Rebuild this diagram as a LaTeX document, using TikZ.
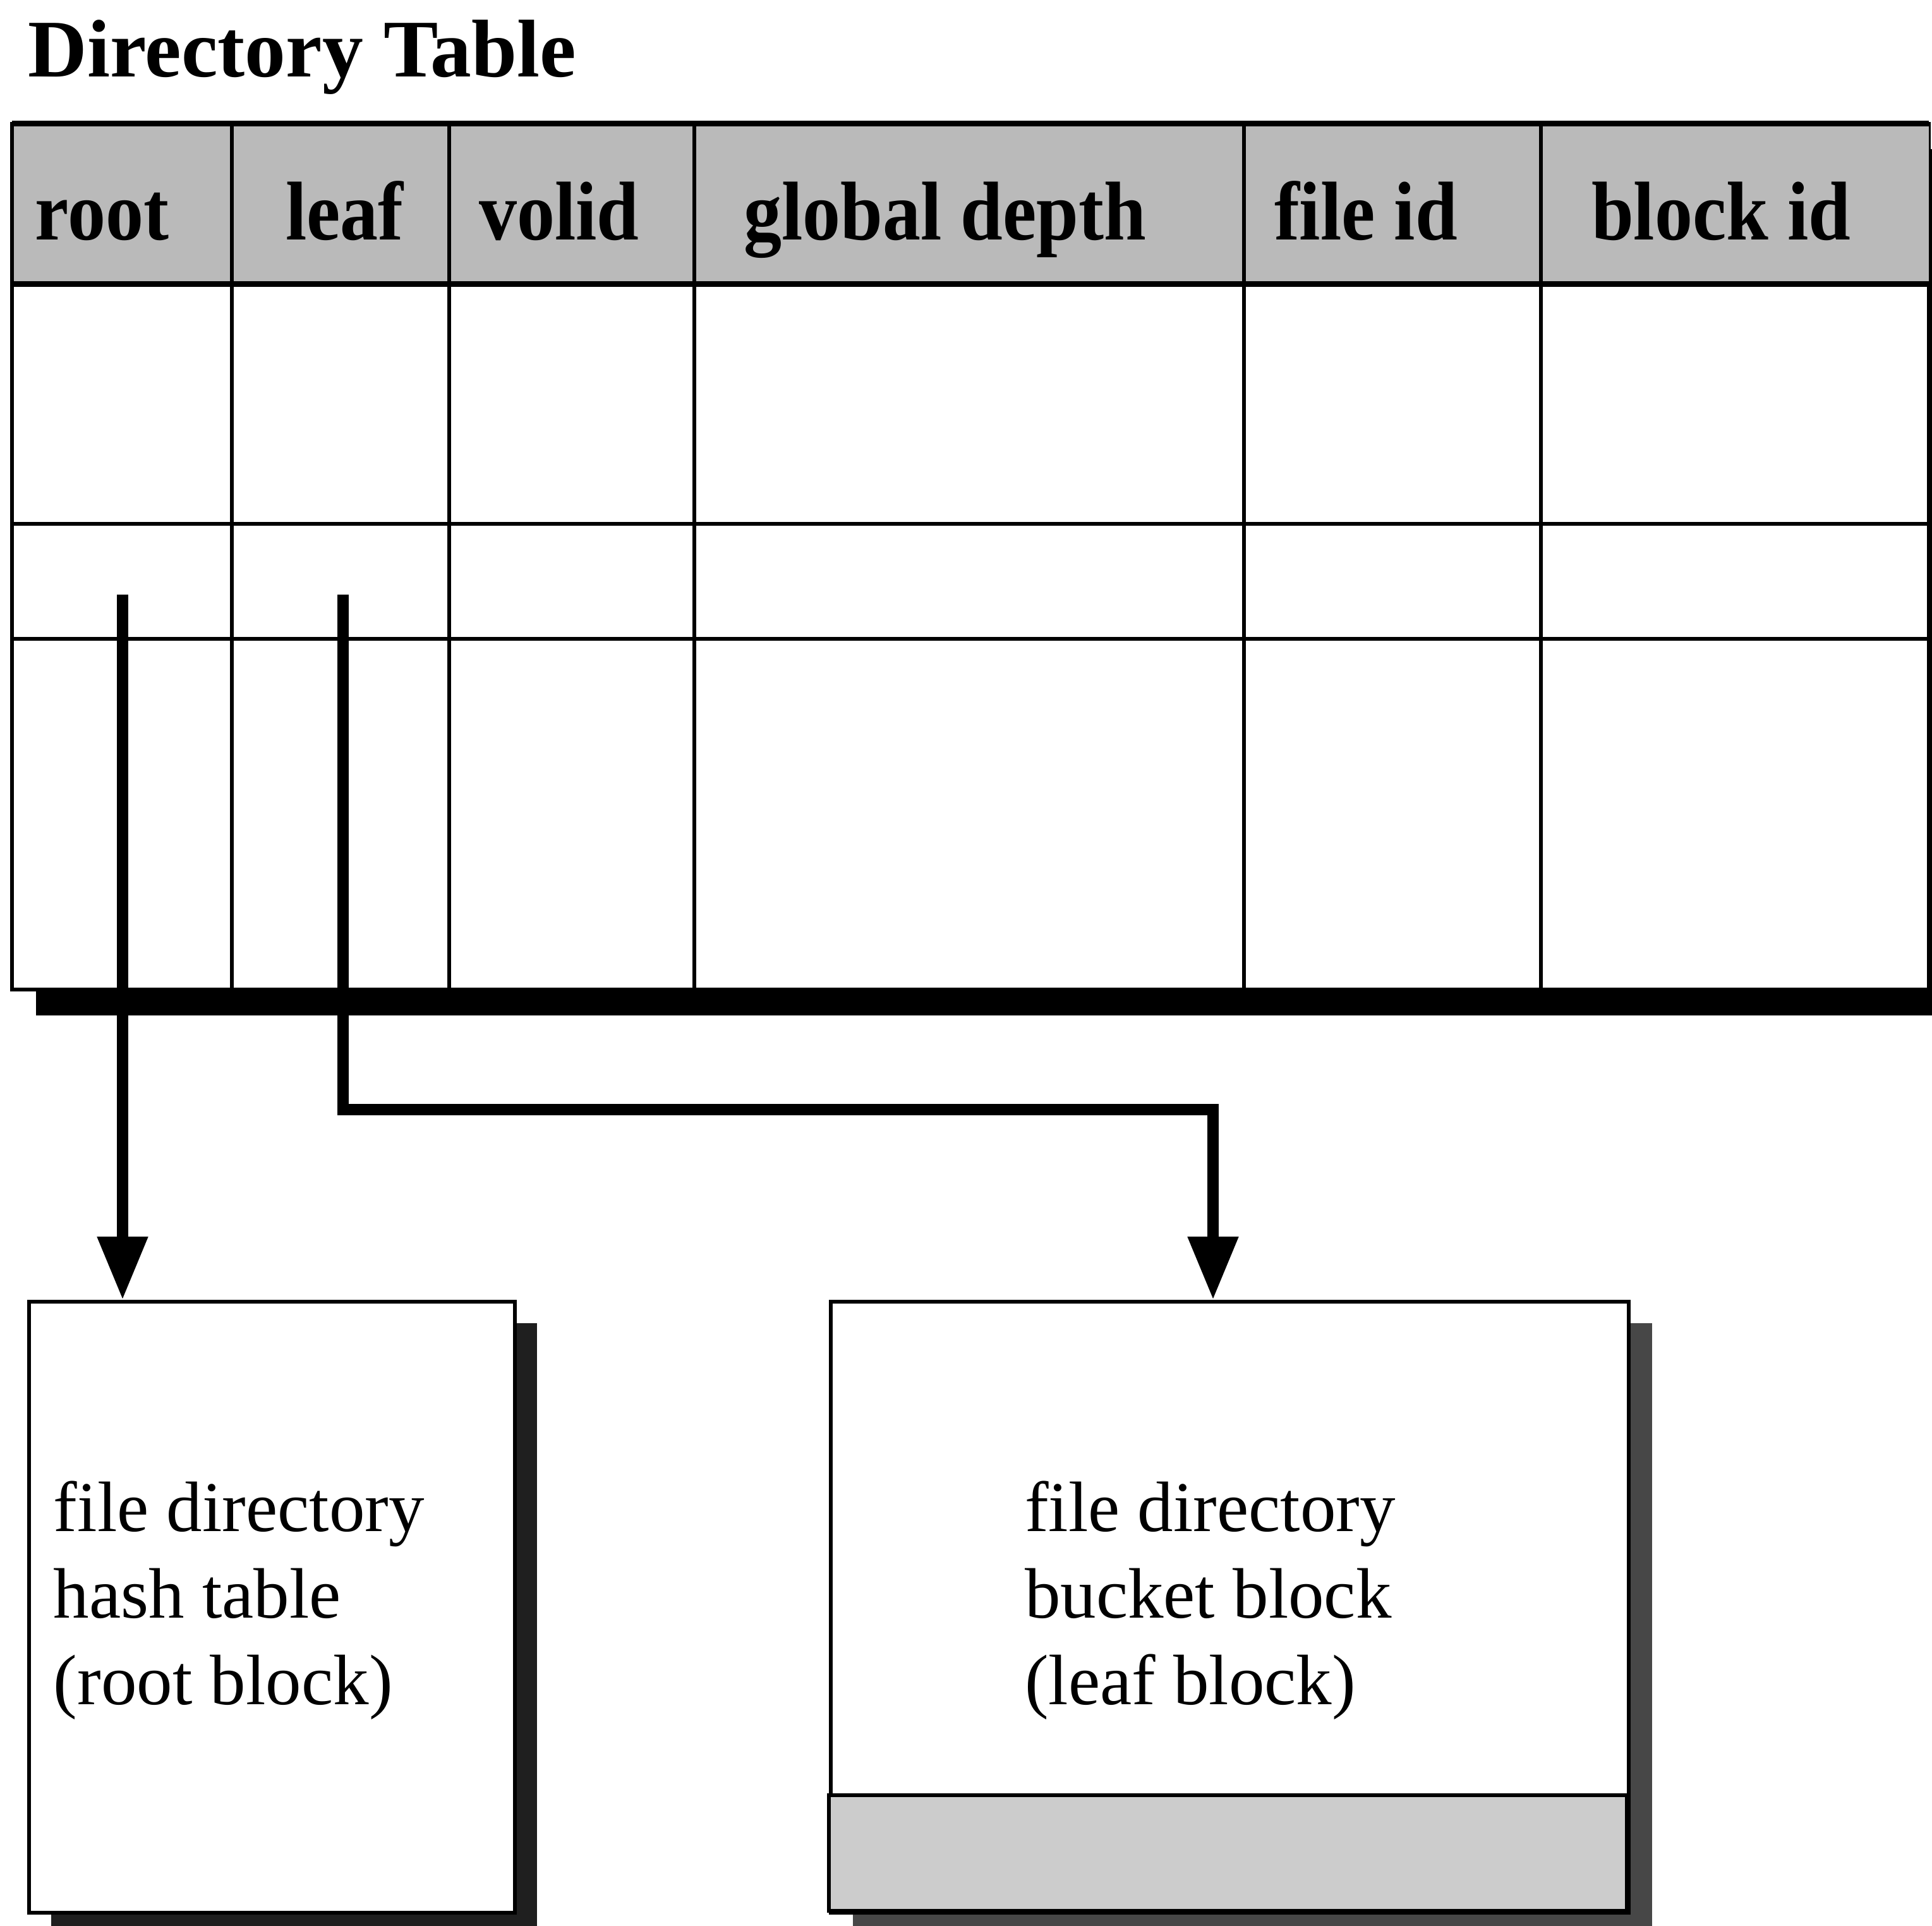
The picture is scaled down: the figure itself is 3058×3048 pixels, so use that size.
\documentclass[tikz,border=0pt]{standalone}
\usepackage{graphicx}
\usepackage{fontspec}
\setmainfont{Liberation Serif}
\usetikzlibrary{arrows.meta}
% header labels are set slightly taller than wide
\newcommand\tallhd[1]{\scalebox{1}[1.1]{#1}}
\begin{document}
\begin{tikzpicture}[x=0.1bp,y=-0.1bp,
  thinrule/.style={line width=0.6bp},
  thickrule/.style={line width=0.9bp},
  headtext/.style={anchor=base west, inner sep=0pt,
    font=\bfseries\fontsize{12bp}{14bp}\selectfont},
  bodytext/.style={anchor=base west, inner sep=0pt,
    font=\fontsize{11.3bp}{13.7bp}\selectfont},
  pointer/.style={line width=1.8bp, line join=miter,
    -{Triangle[length=10bp,width=7.6bp]}},
  block/.style={draw, line width=0.6bp, fill=white, inner sep=0pt,
    anchor=north west, minimum height=96.7bp}
]
\useasboundingbox (0,0) rectangle (3058,3048);
\clip (0,0) rectangle (3058,3048);

% title
\node[anchor=base west, inner sep=0pt,
  font=\bfseries\fontsize{12.95bp}{15bp}\selectfont] (title) at (43,122) {Directory Table};

% table: drop shadow, body, shaded header row
\fill[black] (57,236) rectangle (3096,1607);
\filldraw[fill=white, thinrule] (19,196) rectangle (3053,1566);
\fill[black!27] (19,196) rectangle (3053,450);

% column rules
\foreach \cx in {367,711,1099,1969,2439}
  \draw[thinrule] (\cx,196) -- (\cx,1566);
% row rules
\draw[thinrule] (19,829) -- (3053,829);
\draw[thinrule] (19,1011) -- (3053,1011);
\draw[thickrule] (19,450) -- (3053,450);
\draw[thickrule] (19,196) -- (3053,196);
\draw[thinrule] (19,196) -- (19,1566);

% header labels
\node[headtext] (hroot)  at (54,380)   {\tallhd{root}};
\node[headtext] (hleaf)  at (450,380)  {\tallhd{leaf}};
\node[headtext] (hvolid) at (756,380)  {\tallhd{volid}};
\node[headtext] (hdepth) at (1175,380) {\tallhd{global depth}};
\node[headtext] (hfile)  at (2015,380) {\tallhd{file id}};
\node[headtext] (hblock) at (2517,380) {\tallhd{block id}};

% blocks with their shadows
\fill[black!88] (81,2094) rectangle (850,3061);
\fill[black!72] (1350,2094) rectangle (2615,3061);
\node[block, minimum width=76.9bp] (rootblk) at (43,2057) {};
\node[block, minimum width=126.3bp] (leafblk) at (1312,2057) {};
\draw[thinrule, fill=black!20] (1312,2841) rectangle (2575,3024);

% block captions
\node[bodytext] (rt1) at (83,2423)   {file directory};
\node[bodytext] (rt2) at (83,2560)   {hash table};
\node[bodytext] (rt3) at (83,2697)   {(root block)};
\node[bodytext] (lt1) at (1620,2423) {file directory};
\node[bodytext] (lt2) at (1620,2560) {bucket block};
\node[bodytext] (lt3) at (1620,2697) {(leaf block)};

% pointers from the directory entry
\coordinate (rootptr) at (194,941);
\coordinate (leafptr) at (543,941);
\coordinate (leafbend) at (1920,1756);
\draw[pointer] (rootptr) -- (rootptr |- rootblk.north);
\draw[pointer] (leafptr) |- (leafbend) -- (leafbend |- leafblk.north);
\end{tikzpicture}
\end{document}
